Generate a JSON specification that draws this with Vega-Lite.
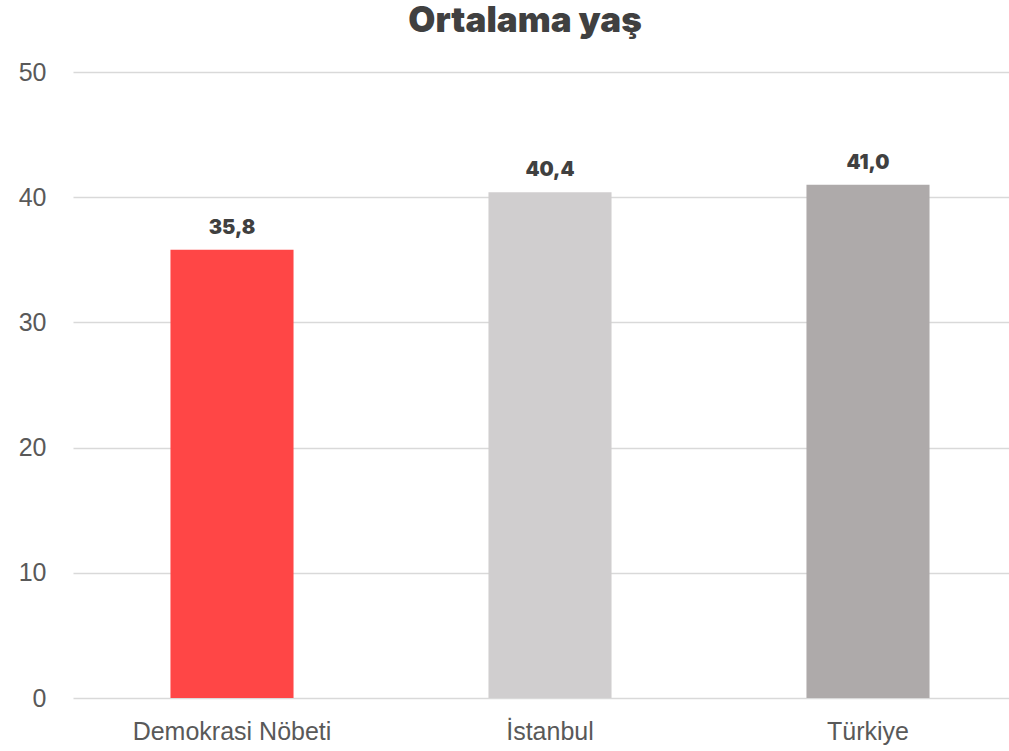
{
  "$schema": "https://vega.github.io/schema/vega-lite/v6.json",
  "width": 954,
  "height": 626,
  "autosize": {"type": "none"},
  "padding": {"left": 73, "top": 72, "right": 0, "bottom": 53},
  "background": "white",
  "config": {
    "view": {"stroke": null},
    "locale": {"number": {"decimal": ",", "thousands": ".", "grouping": [3], "currency": ["", " TL"]}}
  },
  "title": {
    "text": "Ortalama yaş",
    "font": "Inter",
    "fontWeight": 900,
    "fontSize": 35,
    "color": "#404040",
    "anchor": "middle",
    "dx": -25,
    "offset": 21
  },
  "data": {
    "values": [
      {"grup": "Demokrasi Nöbeti", "yas": 35.8, "renk": "#ff4646"},
      {"grup": "İstanbul", "yas": 40.4, "renk": "#d0cecf"},
      {"grup": "Türkiye", "yas": 41.0, "renk": "#aeaaaa"}
    ]
  },
  "encoding": {
    "x": {
      "field": "grup",
      "type": "nominal",
      "sort": null,
      "scale": {"paddingInner": 0.613, "paddingOuter": 0.3065},
      "axis": {
        "title": null,
        "labelAngle": 0,
        "domain": false,
        "ticks": false,
        "labelLimit": 500,
        "labelFont": "Liberation Sans",
        "labelFontSize": 25,
        "labelColor": "#595959",
        "labelPadding": 21
      }
    },
    "y": {
      "field": "yas",
      "type": "quantitative",
      "scale": {"domain": [0, 50]},
      "axis": {
        "title": null,
        "values": [0, 10, 20, 30, 40, 50],
        "domain": false,
        "ticks": false,
        "gridColor": "#d9d9d9",
        "gridWidth": 1.5,
        "labelFont": "Liberation Sans",
        "labelFontSize": 25,
        "labelColor": "#595959",
        "labelPadding": 27
      }
    }
  },
  "layer": [
    {
      "mark": {"type": "bar"},
      "encoding": {
        "color": {"field": "renk", "type": "nominal", "scale": null}
      }
    },
    {
      "mark": {
        "type": "text",
        "baseline": "bottom",
        "dy": -12,
        "font": "Inter",
        "fontWeight": 900,
        "fontSize": 20,
        "color": "#404040"
      },
      "encoding": {
        "text": {"field": "yas", "type": "quantitative", "format": ".1f"}
      }
    }
  ]
}
